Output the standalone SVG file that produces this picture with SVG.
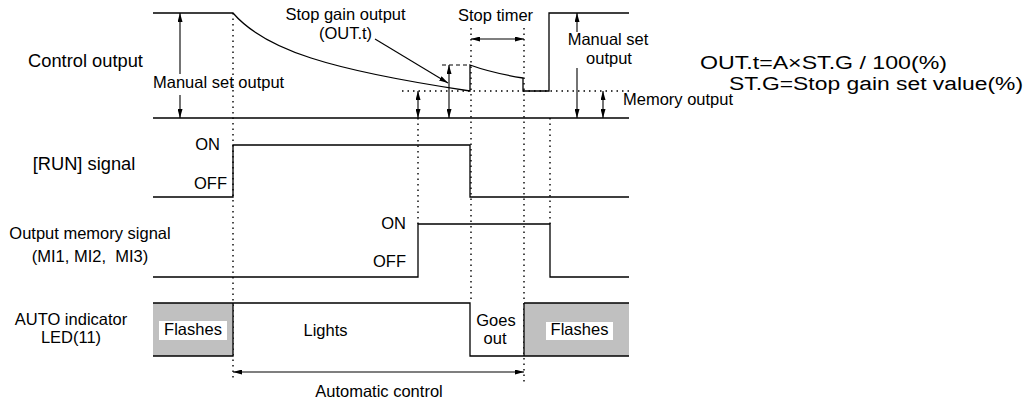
<svg xmlns="http://www.w3.org/2000/svg" width="1029" height="403" viewBox="0 0 1029 403">
<style>
text{font-family:"Liberation Sans",Arial,sans-serif;font-size:16.5px;fill:#000}
.big{font-size:18.3px}
.m{text-anchor:middle}
.e{text-anchor:end}
.w{fill:none;stroke:#000;stroke-width:1.3}
.dot{fill:none;stroke:#000;stroke-width:1.4;stroke-dasharray:1.5 4}
.dash{fill:none;stroke:#000;stroke-width:1.2;stroke-dasharray:4 3}
.ar{fill:none;stroke:#000;stroke-width:1.1}
.gray{fill:#c0c0c0;stroke:none}
</style>
<defs>
<marker id="ah" viewBox="0 0 9 5" refX="9" refY="2.5" markerWidth="9" markerHeight="5" markerUnits="userSpaceOnUse" orient="auto-start-reverse"><path d="M0,0 L9,2.5 L0,5 z" fill="#000"/></marker>
</defs>
<rect width="1029" height="403" fill="#fff"/>

<g id="guides">
<path class="dot" d="M233,13 V378"/>
<path class="dot" d="M418,118 V224"/>
<path class="dot" d="M471,28 V303"/>
<path class="dot" d="M524,28 V382"/>
<path class="dot" d="M550,118 V224"/>
<path class="dot" d="M402,91 H629"/>
<path class="dash" d="M442,65 H470"/>
</g>

<g id="control-output">
<path class="w" d="M153,13 H233 C265,50 330,70 470,91 V65 Q492,73 523,78 V91 H549 V13 H629"/>
<path class="w" d="M153,118 H629"/>
</g>

<g id="run-signal">
<path class="w" d="M153,197 H233 V145 H470 V197 H629"/>
</g>

<g id="memory-signal">
<path class="w" d="M153,277 H418 V224 H550 V277 H629"/>
</g>

<g id="auto-led">
<rect class="gray" x="153" y="303" width="80" height="53"/>
<rect class="gray" x="524" y="303" width="105" height="53"/>
<path class="w" d="M153,303 H470 V356 H629 M153,356 H233 V303 M524,303 H629 M524,303 V356"/>
<rect x="159" y="321" width="68" height="19" fill="#fff"/>
<rect x="546" y="322" width="67" height="18" fill="#fff"/>
</g>

<g id="connectors">
<path class="ar" d="M180,74 V13" marker-end="url(#ah)"/>
<path class="ar" d="M180,95 V118" marker-end="url(#ah)"/>
<path class="ar" d="M418,91 V118" marker-start="url(#ah)" marker-end="url(#ah)"/>
<path class="ar" d="M449,65 V118" marker-start="url(#ah)" marker-end="url(#ah)"/>
<path class="ar" d="M375,39 L448,83" marker-end="url(#ah)"/>
<path class="ar" d="M471,39 H524" marker-start="url(#ah)" marker-end="url(#ah)"/>
<path class="ar" d="M577,32 V13" marker-end="url(#ah)"/>
<path class="ar" d="M577,68 V118" marker-end="url(#ah)"/>
<path class="ar" d="M603,91 V118" marker-start="url(#ah)" marker-end="url(#ah)"/>
<path class="ar" d="M233,372 H524" marker-start="url(#ah)" marker-end="url(#ah)"/>
</g>

<g id="labels">
<text class="big m" x="85.5" y="67">Control output</text>
<text class="big m" x="84" y="170">[RUN] signal</text>
<text class="m" x="90" y="239">Output memory signal</text>
<text class="m" x="90" y="262" xml:space="preserve">(MI1, MI2,  MI3)</text>
<text class="m" x="71" y="325">AUTO indicator</text>
<text class="m" x="71" y="343">LED(11)</text>
<text class="e" x="220" y="150">ON</text>
<text class="e" x="227" y="189">OFF</text>
<text class="e" x="406" y="229">ON</text>
<text class="e" x="406" y="267">OFF</text>
<text x="153" y="88">Manual set output</text>
<text class="m" x="345.5" y="20">Stop gain output</text>
<text class="m" x="345.5" y="39">(OUT.t)</text>
<text class="m" x="495.5" y="21">Stop timer</text>
<text class="m" x="608" y="45">Manual set</text>
<text class="m" x="609" y="64">output</text>
<text x="623" y="105">Memory output</text>
<text class="m" x="193" y="335">Flashes</text>
<text class="m" x="325.5" y="336">Lights</text>
<text class="m" x="496" y="326">Goes</text>
<text class="m" x="495" y="344">out</text>
<text class="m" x="579.5" y="335">Flashes</text>
<text class="m" x="379" y="397">Automatic control</text>
</g>

<g id="equation">
<text x="700" y="69" style="font-size:18px" textLength="247" lengthAdjust="spacingAndGlyphs">OUT.t=A×ST.G / 100(%)</text>
<text x="729" y="90" style="font-size:18px" textLength="294" lengthAdjust="spacingAndGlyphs">ST.G=Stop gain set value(%)</text>
</g>
</svg>
